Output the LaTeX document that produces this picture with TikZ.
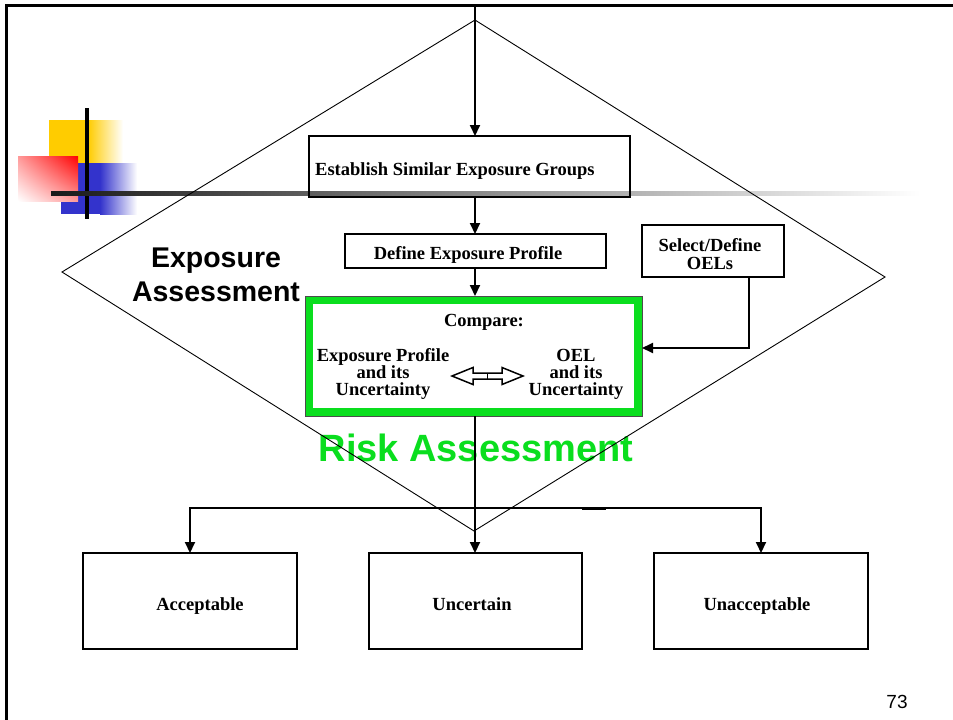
\documentclass[tikz,border=0pt]{standalone}
\usepackage{fontspec}
\setmainfont{Liberation Serif}
\newfontfamily\headsans{Liberation Sans}
\usetikzlibrary{arrows.meta,shadings,calc}
\definecolor{riskgreen}{RGB}{10,222,30}
\definecolor{tmplyellow}{RGB}{255,204,0}
\definecolor{tmplblue}{RGB}{51,51,204}
\definecolor{tmplred}{RGB}{255,0,0}

\begin{document}
\begin{tikzpicture}[x=1pt,y=-1pt,
  box/.style={draw, line width=2pt, inner sep=0pt, outer sep=0pt},
  lbl/.style={inner sep=0pt, font=\fontsize{18.5}{17}\selectfont\bfseries, align=center},
  conn/.style={line width=2pt},
  arr/.style={conn, -{Triangle[length=11pt,width=10pt]}},
  rim/.style={line width=0.9pt}]
\useasboundingbox (0,0) rectangle (953,720);
\fill[white] (0,0) rectangle (953,720);

% slide template ornament
\fill[tmplyellow] (49,120) rectangle (88,164);
\shade[left color=tmplyellow, right color=white] (88,120) rectangle (123,164);
\fill[tmplblue] (61,163) rectangle (100,214);
\shade[left color=tmplblue, right color=white] (100,163) rectangle (137,214);
\begin{scope}[y=1pt]
  \shade[upper right=tmplred, upper left=tmplred!40, lower right=tmplred!40,
         lower left=white] (18,-156) rectangle (78,-201);
\end{scope}
\draw[line width=4pt] (87,108) -- (87,219);
\shade[left color=black!90, right color=white] (51,191) rectangle (920,195);

% slide frame
\draw[line width=3pt] (953,5) -- (6,5) -- (6,720);

% heading texts
\node[text=riskgreen, inner sep=0pt,
      font=\headsans\bfseries\fontsize{38}{38}\selectfont] (risk) at (476,448) {Risk Assessment};
\node[inner sep=0pt, align=center,
      font=\headsans\bfseries\fontsize{28.5}{34}\selectfont] (expo) at (216,275) {Exposure\\Assessment};

% assessment diamond
\coordinate (dtop) at (475,20);
\coordinate (dleft) at (62,272);
\coordinate (dright) at (885,277);
\coordinate (dbottom) at (474,531);
\draw[rim] (dtop) -- (dright) -- (dbottom) -- (dleft) -- cycle;

% process boxes
\node[box, minimum width=321pt, minimum height=61pt] (esg) at (469.5,166.5) {};
\node[lbl, anchor=base west] (esgt) at (315,175) {Establish Similar Exposure Groups};
\node[box, minimum width=261pt, minimum height=34pt] (dep) at (475.5,251) {};
\node[lbl, anchor=base] (dept) at (468,259) {Define Exposure Profile};
\node[box, minimum width=142pt, minimum height=52pt] (sel) at (713,251) {};
\node[lbl, font=\fontsize{18.5}{18}\selectfont\bfseries] (selt) at (710,254) {Select/Define\\OELs};

% comparison box
\node[draw=riskgreen, line width=8pt, inner sep=0pt, outer sep=4pt,
      minimum width=329pt, minimum height=112pt] (cmp) at (473.5,356) {};
\draw[black!70, line width=0.7pt] (cmp.north west) rectangle (cmp.south east);
\node[lbl] (cmpt) at (484,322) {Compare:};
\node[lbl] (cmpl) at (383,374) {Exposure Profile\\and its\\Uncertainty};
\node[lbl] (cmpr) at (576,374) {OEL\\and its\\Uncertainty};
\coordinate (dbl) at (487.5,376);
\draw[line width=1.5pt, line join=miter]
  ($(dbl)+(-35.5,0)$) -- ++(21,-8.5) -- ++(0,5.5) -- ++(29,0) -- ++(0,-5.5)
  -- ++(21,8.5) -- ++(-21,8.5) -- ++(0,-5.5) -- ++(-29,0) -- ++(0,5.5) -- cycle;
\draw[line width=1.5pt] ($(dbl)+(0,-3)$) -- ($(dbl)+(0,3)$);

% outcome boxes
\node[box, minimum width=214pt, minimum height=96pt] (acc) at (190,601) {};
\node[lbl, anchor=base] (acct) at (200,610) {Acceptable};
\node[box, minimum width=213pt, minimum height=96pt] (unc) at (475.5,601) {};
\node[lbl, anchor=base] (unct) at (472,610) {Uncertain};
\node[box, minimum width=214pt, minimum height=96pt] (una) at (761,601) {};
\node[lbl, anchor=base] (unat) at (757,610) {Unacceptable};

% connectors
\coordinate (entry) at (475,5);
\draw[arr] (entry) -- (entry |- esg.north);
\draw[arr] (esg.south -| entry) -- (dep.north -| entry);
\draw[arr] (dep.south -| entry) -- (cmp.north -| entry);
\draw[arr] ([xshift=36pt]sel.south) |- ([yshift=8pt]cmp.east);
\coordinate (split) at (475,508);
\draw[arr] (cmp.south -| entry) -- (unc.north -| entry);
\draw[arr] (split) -| (acc.north);
\draw[arr] (split) -| (una.north);
\draw[line width=3pt] (582,508) -- (606,508);

% page number
\node[inner sep=0pt, anchor=base, font=\headsans\fontsize{19}{19}\selectfont] (pg) at (897,708) {73};
\end{tikzpicture}
\end{document}
